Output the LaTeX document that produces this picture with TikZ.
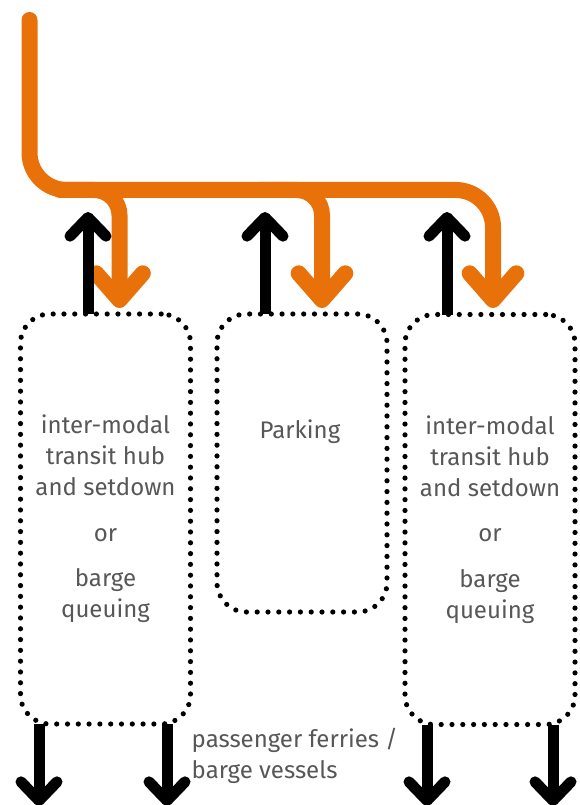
\documentclass[tikz,border=0pt]{standalone}
\usepackage{fontspec}
\setmainfont{Fira Sans}
\usetikzlibrary{arrows.meta, positioning, calc}
\definecolor{routeorange}{HTML}{E8710A}
\definecolor{areatext}{HTML}{575757}
\newcommand{\areabox}[5]{%
  \node[draw, line width=3.9pt, line cap=round, dash pattern=on 0pt off 8.1pt,
        rounded corners=22pt, minimum width=#4, minimum height=#5,
        outer sep=0pt] (#1) at (#2,#3) {};}

\begin{document}
\begin{tikzpicture}[x=0.75pt, y=-0.75pt,
    font=\fontsize{18}{23.25}\selectfont,
    route/.style={draw=routeorange, line width=12pt, line cap=round,
      -{Straight Barb[length=20pt, width=35pt, round]}},
    upflow/.style={draw=black, line width=8.25pt,
      -{Straight Barb[length=14pt, width=27pt, round]}},
    areaname/.style={text=areatext, align=center}]
  \useasboundingbox (0,0) rectangle (579,805);

  % dotted areas
  \areabox{hubL}{105.5}{519}{127.5pt}{307.5pt}
  \areabox{park}{302}{463}{127.5pt}{223.5pt}
  \areabox{hubR}{490}{519.5}{127.5pt}{307.5pt}

  \node[areaname] (hubLtext) at (hubL) {inter-modal\\transit hub\\and setdown\\[11pt]or\\[11pt]barge\\queuing};
  \node[areaname] (parkText) at (300,432) {Parking};
  \node[areaname] (hubRtext) at (hubR) {inter-modal\\transit hub\\and setdown\\[11pt]or\\[11pt]barge\\queuing};
  \node[text=areatext, align=left, anchor=west] (ferryText) at (187,756) {passenger ferries /\\barge vessels};

  % orange route and branches
  \coordinate (routeStart) at (29.5,20);
  \coordinate (bend) at (29.5,190);
  \coordinate (hubLin) at (119.5,308);
  \coordinate (parkIn) at (322,308);
  \coordinate (hubRin) at (493,308);
  \draw[route, rounded corners=19pt] (60,190) -- (hubLin |- bend) -- (hubLin);
  \draw[route, rounded corners=19pt] (260,190) -- (parkIn |- bend) -- (parkIn);
  \draw[route, rounded corners=28pt] (routeStart) -- (bend) -- (bend -| hubRin) -- (hubRin);

  % black flows out of the areas
  \coordinate (hubLout) at (88,212);
  \coordinate (parkOut) at (265,212);
  \coordinate (hubRout) at (447,212);
  \draw[upflow] (hubL.north -| hubLout) -- (hubLout);
  \draw[upflow] (park.north -| parkOut) -- (parkOut);
  \draw[upflow] (hubR.north -| hubRout) -- (hubRout);

  \coordinate (ferryA) at (39,806);
  \coordinate (ferryB) at (167,806);
  \coordinate (ferryC) at (427,806);
  \coordinate (ferryD) at (553,806);
  \draw[upflow] (hubL.south -| ferryA) -- (ferryA);
  \draw[upflow] (hubL.south -| ferryB) -- (ferryB);
  \draw[upflow] (hubR.south -| ferryC) -- (ferryC);
  \draw[upflow] (hubR.south -| ferryD) -- (ferryD);
\end{tikzpicture}
\end{document}
